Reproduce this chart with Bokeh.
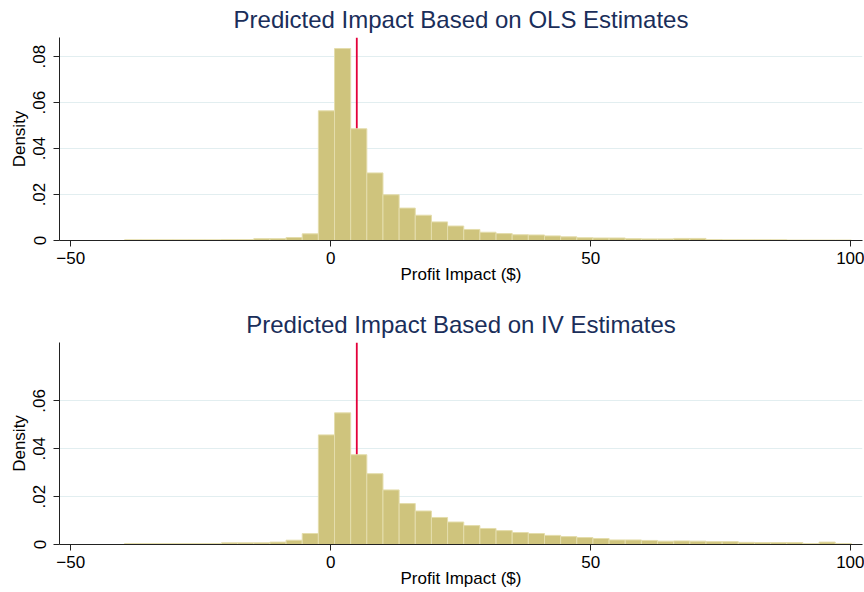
import numpy as np
from bokeh.plotting import figure
from bokeh.layouts import column
from bokeh.models import FixedTicker, Range1d
from bokeh.embed import file_html
from bokeh.resources import INLINE

# ---- data ----
bin_start = -39.66
bin_width = 3.106

ols_density = [0.0003, 0.0003, 0.0003, 0.0003, 0.0003, 0.0003, 0.0004, 0.0004,
               0.0008, 0.0008, 0.0013, 0.0029, 0.0564, 0.0835, 0.0486, 0.0294,
               0.0199, 0.0141, 0.0110, 0.0081, 0.0063, 0.0048, 0.0036, 0.0030,
               0.0025, 0.0024, 0.0020, 0.0016, 0.0012, 0.0011, 0.0011, 0.0008,
               0.0007, 0.0007, 0.0009, 0.0009, 0.0004, 0.0003, 0.0003, 0.0003,
               0.0003, 0.0002, 0.0002, 0.0002, 0.0002]

iv_density = [0.0004, 0.0004, 0.0004, 0.0004, 0.0004, 0.0004, 0.0007, 0.0007,
              0.0007, 0.0010, 0.0018, 0.0046, 0.0458, 0.0550, 0.0375, 0.0296,
              0.0228, 0.0171, 0.0140, 0.0113, 0.0094, 0.0079, 0.0067, 0.0058,
              0.0050, 0.0046, 0.0038, 0.0033, 0.0029, 0.0025, 0.0019, 0.0019,
              0.0017, 0.0014, 0.0015, 0.0014, 0.0012, 0.0012, 0.0009, 0.0008,
              0.0008, 0.0008, 0.0004, 0.0010, 0.0004]

ref_line_x = 5.0

x_ticks = [-50, 0, 50, 100]
ols_y_ticks = [0, 0.02, 0.04, 0.06, 0.08]
iv_y_ticks = [0, 0.02, 0.04, 0.06]
y_tick_labels = {0: "0", 0.02: ".02", 0.04: ".04", 0.06: ".06", 0.08: ".08"}

ols_title = "Predicted Impact Based on OLS Estimates"
iv_title = "Predicted Impact Based on IV Estimates"
x_label = "Profit Impact ($)"
y_label = "Density"

x_min, x_max = -52.17, 102.25
ols_y_max = 0.0883
iv_y_max = 0.0844

FONT = "Liberation Sans"
BAR_FILL = "#cfc47d"
BAR_LINE = "#e4ddac"
RED = "#e4003a"
GRID = "#e2eef0"
TITLE_COLOR = "#1a2e5a"


def make_hist(title, dens, y_ticks, y_max, height, top_border, bottom_border):
    p = figure(width=864, height=height, output_backend="svg", toolbar_location=None,
               x_range=Range1d(x_min, x_max), y_range=Range1d(0, y_max),
               min_border_left=59, min_border_right=2,
               min_border_top=top_border, min_border_bottom=bottom_border)
    p.outline_line_color = None
    p.background_fill_color = "white"
    p.border_fill_color = "white"

    p.title.text = title
    p.title.align = "center"
    p.title.vertical_align = "middle"
    p.title.text_font = FONT
    p.title.text_font_size = "24px"
    p.title.text_font_style = "normal"
    p.title.text_color = TITLE_COLOR
    p.title.standoff = 8

    dens = np.array(dens)
    left = bin_start + bin_width * np.arange(len(dens))
    right = left + bin_width

    p.segment(x0=[ref_line_x], y0=[0], x1=[ref_line_x], y1=[y_max],
              line_color=RED, line_width=1.8)
    p.quad(left=left, right=right, bottom=0, top=dens,
           fill_color=BAR_FILL, line_color=BAR_LINE, line_width=1)

    p.xgrid.visible = False
    p.ygrid.ticker = FixedTicker(ticks=[t for t in y_ticks if t > 0])
    p.ygrid.grid_line_color = GRID
    p.ygrid.grid_line_width = 1

    for ax in (p.xaxis[0], p.yaxis[0]):
        ax.axis_line_color = "#222222"
        ax.major_tick_line_color = "#222222"
        ax.minor_tick_line_color = None
        ax.major_tick_in = 0
        ax.major_tick_out = 6
        ax.major_label_text_font = FONT
        ax.major_label_text_font_size = "17px"
        ax.major_label_text_color = "black"
        ax.axis_label_text_font = FONT
        ax.axis_label_text_font_size = "17px"
        ax.axis_label_text_font_style = "normal"
        ax.axis_label_text_color = "black"

    p.xaxis.ticker = FixedTicker(ticks=x_ticks)
    p.xaxis.axis_label = x_label
    p.xaxis.major_label_standoff = 5
    p.xaxis.axis_label_standoff = -2

    p.yaxis.ticker = FixedTicker(ticks=y_ticks)
    p.yaxis.major_label_overrides = {t: y_tick_labels[t] for t in y_ticks}
    p.yaxis.major_label_orientation = "vertical"
    p.yaxis.axis_label = y_label
    p.yaxis.major_label_standoff = 8
    p.yaxis.axis_label_standoff = 2
    return p


p1 = make_hist(ols_title, ols_density, ols_y_ticks, ols_y_max, 304, 37, 64)
p2 = make_hist(iv_title, iv_density, iv_y_ticks, iv_y_max, 288, 38, 48)

layout = column(p1, p2, spacing=0)
open("out.html", "w").write(file_html(layout, INLINE))
